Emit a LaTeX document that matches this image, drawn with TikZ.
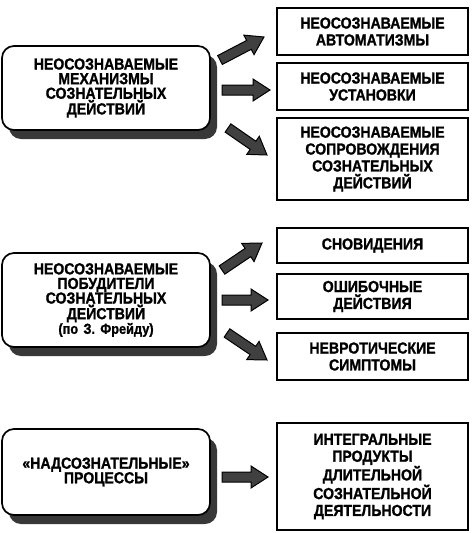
\documentclass[tikz,border=0pt]{standalone}
\usepackage{fontspec}
\newfontfamily\lbl{Liberation Sans}[FakeStretch=0.88, BoldFeatures={FakeBold=1.2}]
\usetikzlibrary{calc,shadows}
\tikzset{
 leftbox/.style={draw, line width=1.7pt, rounded corners=12pt, fill=white,
   minimum width=208pt, text width=204pt, align=center, inner sep=0pt,
   font=\lbl\bfseries\fontsize{16}{14.6}\selectfont,
   drop shadow={shadow xshift=7pt, shadow yshift=-9pt, fill=black!78, opacity=1}},
 rightbox/.style={draw, line width=1.7pt, fill=white, minimum width=191pt,
   text width=187pt, align=center, inner sep=0pt,
   font=\lbl\bfseries\fontsize{16}{16.9}\selectfont},
 blockarr/.style={draw=black, line width=1pt, fill=black!75, line join=miter}
}
\newcommand{\barrow}[2]{%
  \coordinate (nk) at ($(#2)!17pt!(#1)$);
  \draw[blockarr] ($(#1)!5pt!90:(#2)$) -- ($(nk)!5pt!-90:(#1)$) -- ($(nk)!11pt!-90:(#1)$)
    -- (#2) -- ($(nk)!11pt!90:(#1)$) -- ($(nk)!5pt!90:(#1)$) -- ($(#1)!5pt!-90:(#2)$) -- cycle;
}
\begin{document}
\begin{tikzpicture}[x=1pt,y=1pt]
\useasboundingbox[fill=white] (0,0) rectangle (474,-533);
% left boxes
\node[leftbox, minimum height=84pt] (m1) at (106,-88) {НЕОСОЗНАВАЕМЫЕ\\МЕХАНИЗМЫ\\СОЗНАТЕЛЬНЫХ\\ДЕЙСТВИЙ};
\node[leftbox, minimum height=94pt] (m2) at (106,-300) {НЕОСОЗНАВАЕМЫЕ\\ПОБУДИТЕЛИ\\СОЗНАТЕЛЬНЫХ\\ДЕЙСТВИЙ\\{\fontsize{14.5}{14.6}\selectfont(по З. Фрейду)}};
\node[leftbox, minimum height=86pt] (m3) at (106,-472) {«НАДСОЗНАТЕЛЬНЫЕ»\\ПРОЦЕССЫ};
% right boxes
\node[rightbox, minimum height=47pt] (ra) at (372.5,-31.5) {НЕОСОЗНАВАЕМЫЕ\\АВТОМАТИЗМЫ};
\node[rightbox, minimum height=47pt] (rb) at (372.5,-86.5) {НЕОСОЗНАВАЕМЫЕ\\УСТАНОВКИ};
\node[rightbox, minimum height=82pt] (rc) at (372.5,-159) {НЕОСОЗНАВАЕМЫЕ\\СОПРОВОЖДЕНИЯ\\СОЗНАТЕЛЬНЫХ\\ДЕЙСТВИЙ};
\node[rightbox, minimum height=35pt] (rd) at (372.5,-245.5) {СНОВИДЕНИЯ};
\node[rightbox, minimum height=45pt] (re) at (372.5,-296.5) {ОШИБОЧНЫЕ\\ДЕЙСТВИЯ};
\node[rightbox, minimum height=47pt] (rf) at (372.5,-356.5) {НЕВРОТИЧЕСКИЕ\\СИМПТОМЫ};
\node[rightbox, minimum height=107pt] (rg) at (372.5,-476.5) {ИНТЕГРАЛЬНЫЕ\\ПРОДУКТЫ\\ДЛИТЕЛЬНОЙ\\СОЗНАТЕЛЬНОЙ\\ДЕЯТЕЛЬНОСТИ};
% arrow end points
\coordinate (a1s) at (220,-60);  \coordinate (a1e) at (264,-37);
\coordinate (a2s) at (222,-90);  \coordinate (a2e) at (270,-90);
\coordinate (a3s) at (228,-128); \coordinate (a3e) at (267,-155);
\coordinate (b1s) at (222,-270); \coordinate (b1e) at (262,-243);
\coordinate (b2s) at (222,-300); \coordinate (b2e) at (268,-300);
\coordinate (b3s) at (227,-333); \coordinate (b3e) at (267,-360);
\coordinate (c1s) at (222,-477); \coordinate (c1e) at (268,-477);
\barrow{a1s}{a1e}
\barrow{a2s}{a2e}
\barrow{a3s}{a3e}
\barrow{b1s}{b1e}
\barrow{b2s}{b2e}
\barrow{b3s}{b3e}
\barrow{c1s}{c1e}
\end{tikzpicture}
\end{document}
